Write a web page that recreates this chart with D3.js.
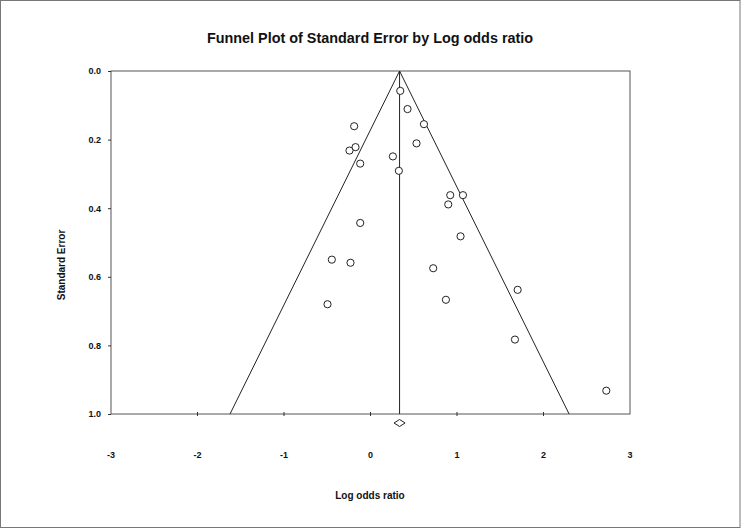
<!DOCTYPE html>
<html>
<head>
<meta charset="utf-8">
<script src="https://cdn.jsdelivr.net/npm/d3@7"></script>
<style>
  body { margin: 0; background: #fff; }
  text { font-family: Arial, "Liberation Sans", sans-serif; font-weight: bold; fill: #111; }
</style>
</head>
<body>
<div id="chart"></div>
<script>
// study estimates
const logOdds = [0.344, 0.428, 0.618, -0.189, 0.532, -0.173, -0.243, 0.259, -0.119, 0.328,
                 0.922, 1.069, 0.899, -0.119, 1.041, -0.447, -0.231, 0.725, 1.701, -0.497,
                 0.872, 1.670, 2.726];
const stdErr = [0.058, 0.111, 0.155, 0.161, 0.211, 0.222, 0.232, 0.249, 0.270, 0.291,
                0.362, 0.362, 0.389, 0.443, 0.482, 0.550, 0.559, 0.575, 0.638, 0.680,
                0.667, 0.783, 0.932];
// combined effect and its interval (diamond)
const summary = { est: 0.336, lower: 0.272, upper: 0.400 };
const xTicks = [-3, -2, -1, 0, 1, 2, 3];
const yTicks = [0.0, 0.2, 0.4, 0.6, 0.8, 1.0];

const width = 741, height = 530;
const margin = { top: 71, right: 111, bottom: 116, left: 111 };

const svg = d3.select("#chart").append("svg")
    .attr("width", width)
    .attr("height", height);

// outer frame
svg.append("rect")
    .attr("x", 0.5).attr("y", 0.5)
    .attr("width", width - 1.5).attr("height", height - 3)
    .attr("fill", "none")
    .attr("stroke", "#777");

const x = d3.scaleLinear().domain([-3, 3]).range([margin.left, width - margin.right]);
const y = d3.scaleLinear().domain([0, 1]).range([margin.top, height - margin.bottom]);

// plot box
svg.append("rect")
    .attr("x", x(-3)).attr("y", y(0))
    .attr("width", x(3) - x(-3)).attr("height", y(1) - y(0))
    .attr("fill", "none")
    .attr("stroke", "#555");

// y axis
const yAxis = svg.append("g")
    .attr("transform", `translate(${x(-3)},0)`)
    .call(d3.axisLeft(y).tickValues(yTicks).tickFormat(d3.format(".1f")).tickSize(3).tickPadding(7));
yAxis.select(".domain").remove();
yAxis.selectAll("text").style("font-size", "9px");
yAxis.selectAll("line").attr("stroke", "#333");

// x axis: small ticks crossing the bottom line, labels well below
const xAxis = svg.append("g")
    .attr("transform", `translate(0,${y(1)})`);
xAxis.selectAll("line")
    .data(xTicks.slice(1, -1))
    .join("line")
    .attr("x1", d => x(d)).attr("x2", d => x(d))
    .attr("y1", -2).attr("y2", 2)
    .attr("stroke", "#333");
xAxis.selectAll("text")
    .data(xTicks)
    .join("text")
    .attr("x", d => x(d))
    .attr("y", 44)
    .attr("text-anchor", "middle")
    .style("font-size", "9px")
    .text(d => d);

// funnel (95% limits) and mean line
const z = 1.96;
svg.append("path")
    .attr("d", d3.line()([
        [x(summary.est - z * 1), y(1)],
        [x(summary.est), y(0)],
        [x(summary.est + z * 1), y(1)]
    ]))
    .attr("fill", "none")
    .attr("stroke", "#222");

svg.append("line")
    .attr("x1", x(summary.est)).attr("x2", x(summary.est))
    .attr("y1", y(0)).attr("y2", y(1))
    .attr("stroke", "#222");

// studies
svg.selectAll(".study")
    .data(logOdds.map((d, i) => ({ lo: d, se: stdErr[i] })))
    .join("circle")
    .attr("class", "study")
    .attr("cx", d => x(d.lo))
    .attr("cy", d => y(d.se))
    .attr("r", 3.6)
    .attr("fill", "#fff")
    .attr("stroke", "#222");

// combined diamond
const dy = y(1) + 9;
svg.append("path")
    .attr("d", d3.line()([
        [x(summary.lower), dy],
        [x(summary.est), dy - 3.5],
        [x(summary.upper), dy],
        [x(summary.est), dy + 3.5]
    ]) + "Z")
    .attr("fill", "#fff")
    .attr("stroke", "#222");

// titles
svg.append("text")
    .attr("x", 370).attr("y", 43)
    .attr("text-anchor", "middle")
    .style("font-size", "14.4px")
    .text("Funnel Plot of Standard Error by Log odds ratio");

svg.append("text")
    .attr("x", 370).attr("y", 499)
    .attr("text-anchor", "middle")
    .style("font-size", "10px")
    .text("Log odds ratio");

svg.append("text")
    .attr("transform", "translate(65,265) rotate(-90)")
    .attr("text-anchor", "middle")
    .style("font-size", "10px")
    .text("Standard Error");
</script>
</body>
</html>
